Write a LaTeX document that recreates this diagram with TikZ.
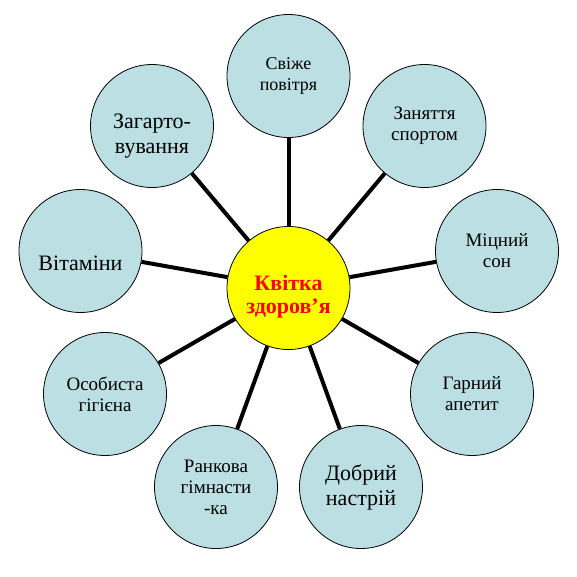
\documentclass[tikz,border=0pt]{standalone}
\usepackage{fontspec}
\setmainfont{Liberation Serif}
\newfontfamily\kvfont{Liberation Serif}
\usepackage{tikz}
\usepackage{xcolor}
\definecolor{kvblue}{HTML}{BBDFE2}
\definecolor{kvyellow}{HTML}{FFFF00}
\definecolor{kvred}{HTML}{FF0000}
\newcommand{\kvsmall}{\kvfont\fontsize{18}{21.5}\selectfont}
\newcommand{\kvmid}{\kvfont\fontsize{19}{21}\selectfont}
\newcommand{\kvbig}{\kvfont\fontsize{22}{25}\selectfont}
\tikzset{
  petal/.style        = {circle, draw=black, line width=0.8pt, fill=kvblue,
                         minimum size=123pt, inner sep=0pt, align=center,
                         font=\kvmid},
  core/.style         = {petal, fill=kvyellow, text=kvred,
                         font=\kvfont\fontsize{22}{23}\selectfont\bfseries},
  stem/.style         = {draw=black, line width=4pt},
}

\begin{document}
\begin{tikzpicture}[x=1pt, y=-1pt]

  % page frame
  \path[fill=white] (0,0) rectangle (577,577);

  % ---------- centre of the flower --------------------------------------
  \node[core, text height=56pt] (core) at (288.5, 288) {Квітка\\ здоров’я};

  % ---------- petals, clockwise from the top ----------------------------
  \node[petal, font=\kvsmall] (povitria) at (288.5,  76) {Свіже\\ повітря};
  \node[petal]                (sport)    at (424.5, 126) {Заняття\\ спортом};
  \node[petal]                (son)      at (497.0, 251) {Міцний\\ сон};
  \node[petal]                (apetyt)   at (472.0, 394) {Гарний\\ апетит};
  \node[petal, font=\kvbig]   (nastrii)  at (361.0, 487) {Добрий\\ настрій};
  \node[petal]                (gimn)     at (216.0, 487) {Ранкова\\ гімнасти\\ -ка};
  \node[petal]                (gigiena)  at (105.0, 394) {Особиста\\ гігієна};
  \node[petal, font=\kvbig, text height=39pt]
                              (vitamin)  at ( 80.5, 251) {Вітаміни};
  \node[petal, font=\kvbig, text height=60pt]
                              (zagart)   at (152.0, 126) {Загарто-\\ вування};

  % ---------- stems ------------------------------------------------------
  \draw[stem] (core) -- (povitria);
  \draw[stem] (core) -- (sport);
  \draw[stem] (core) -- (son);
  \draw[stem] (core) -- (apetyt);
  \draw[stem] (core) -- (nastrii);
  \draw[stem] (core) -- (gimn);
  \draw[stem] (core) -- (gigiena);
  \draw[stem] (core) -- (vitamin);
  \draw[stem] (core) -- (zagart);

\end{tikzpicture}
\end{document}
